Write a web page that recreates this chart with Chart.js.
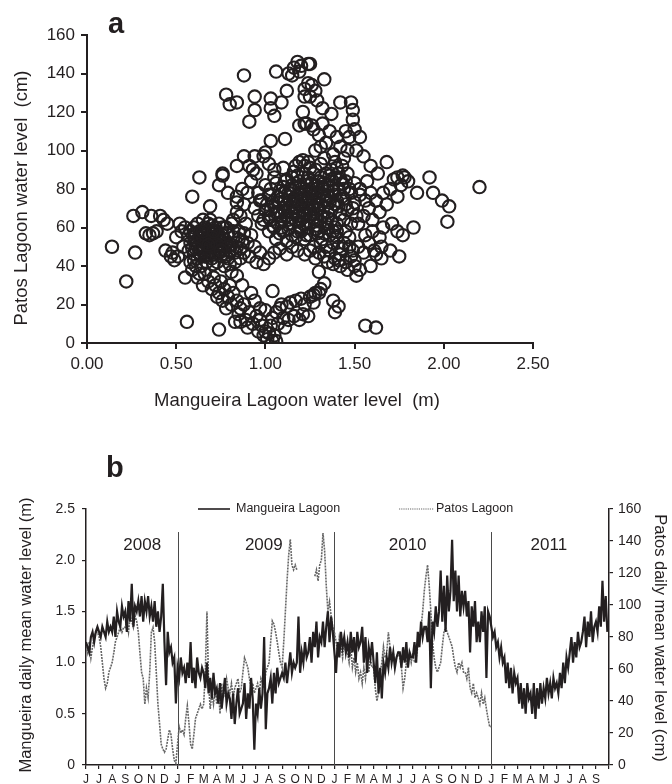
<!DOCTYPE html>
<html lang="en">
<head>
    <meta charset="UTF-8">
    <title>Mangueira and Patos lagoon water levels</title>
    <style>
        body {
            margin: 0;
            background-color: #ffffff;
        }
        .page {
            position: relative;
            width: 672px;
            height: 784px;
        }
        #scatterChart {
            position: absolute;
            left: 0;
            top: 0;
        }
        #seriesChart {
            position: absolute;
            left: 0;
            top: 420px;
        }
    </style>
</head>
<body>
    <div class="page">
        <canvas id="scatterChart" width="672" height="420"></canvas>
        <canvas id="seriesChart" width="672" height="364"></canvas>
    </div>
    <script src="https://cdn.jsdelivr.net/npm/chart.js"></script>
    <script>
        // Panel a: daily pairs (Mangueira level in m, Patos level in cm)
        const scatterPairs = [
            // left arm and outliers
            [0.14, 50], [0.27, 47], [0.22, 32], [0.26, 66], [0.31, 68], [0.36, 66], [0.33, 57], [0.35, 56],
            [0.37, 57], [0.39, 58], [0.41, 66], [0.43, 64], [0.45, 62], [0.44, 48], [0.47, 45], [0.49, 43],
            [0.48, 47], [0.50, 55], [0.51, 45], [0.52, 62], [0.53, 58], [0.55, 60], [0.54, 50], [0.56, 11],
            [0.55, 34], [0.59, 76], [0.63, 86], [0.69, 71], [0.74, 82], [0.76, 87], [0.79, 78], [0.84, 73],
            [0.84, 68], [0.82, 64],
            // blob around 0.7 m / 50 cm
            [0.58, 52], [0.60, 55], [0.62, 50], [0.63, 58], [0.64, 53], [0.65, 48], [0.66, 56], [0.67, 51],
            [0.68, 54], [0.69, 47], [0.70, 58], [0.71, 52], [0.72, 49], [0.73, 55], [0.74, 50], [0.75, 45],
            [0.62, 44], [0.64, 40], [0.60, 46], [0.58, 42], [0.57, 48], [0.66, 60], [0.68, 62], [0.72, 60],
            [0.76, 56], [0.78, 52], [0.80, 48], [0.82, 55], [0.84, 50], [0.79, 44], [0.77, 40], [0.73, 42],
            [0.70, 44], [0.67, 42], [0.63, 36], [0.61, 40], [0.59, 38], [0.69, 64], [0.65, 64], [0.62, 62],
            [0.57, 56], [0.60, 60], [0.74, 62], [0.78, 60], [0.81, 62], [0.85, 58], [0.87, 53], [0.88, 47],
            [0.86, 44], [0.83, 42], [0.90, 52], [0.92, 56], [0.94, 50], [0.91, 45], [0.95, 42], [0.97, 47],
            [0.66, 52], [0.70, 50], [0.64, 57], [0.71, 55], [0.68, 46], [0.75, 53], [0.61, 53], [0.77, 48],
            [0.59, 49], [0.61, 57], [0.63, 47], [0.65, 55], [0.67, 45], [0.69, 53], [0.71, 46], [0.73, 58],
            [0.75, 50], [0.77, 54], [0.79, 57], [0.81, 51], [0.83, 47], [0.85, 54], [0.62, 53], [0.66, 49],
            [0.70, 61], [0.74, 47], [0.78, 45], [0.60, 43], [0.64, 45], [0.68, 58], [0.72, 53], [0.76, 60],
            [0.80, 41], [0.82, 58], [0.58, 58], [0.86, 49], [0.88, 57], [0.71, 41],
            [0.64, 50], [0.67, 54], [0.69, 50], [0.72, 46], [0.74, 56], [0.76, 51], [0.63, 55], [0.70, 55],
            [0.66, 45], [0.73, 51], [0.68, 51], [0.65, 58], [0.71, 58], [0.79, 50], [0.61, 49], [0.75, 48],
            // falling band towards 1.0 m / 0 cm
            [0.62, 34], [0.65, 30], [0.68, 32], [0.70, 28], [0.72, 30], [0.74, 26], [0.66, 36], [0.71, 34],
            [0.75, 32], [0.77, 28], [0.79, 24], [0.76, 22], [0.73, 24], [0.80, 30], [0.82, 26], [0.84, 22],
            [0.81, 20], [0.78, 18], [0.86, 18], [0.88, 20], [0.85, 15], [0.89, 12], [0.83, 11], [0.91, 16],
            [0.93, 10], [0.95, 14], [0.90, 8], [0.96, 6], [0.98, 9], [0.99, 4], [1.00, 6], [1.01, 2],
            [1.02, 5], [1.03, 9], [0.97, 12], [1.04, 1], [1.05, 4], [1.06, 1], [1.04, 13], [1.06, 16],
            [1.08, 18], [1.00, 17], [0.97, 18], [0.94, 22], [0.92, 26], [0.87, 30], [0.84, 35], [0.81, 37],
            [0.74, 7], [0.86, 11], [1.04, 27],
            // low band to the right
            [1.09, 20], [1.12, 19], [1.14, 21], [1.17, 22], [1.20, 23], [1.22, 20], [1.25, 24], [1.28, 26],
            [1.27, 21], [1.31, 28], [1.33, 31], [1.30, 37], [1.38, 22], [1.41, 19], [1.39, 16], [1.10, 13],
            [1.13, 12], [1.16, 14], [1.19, 12], [1.21, 15], [1.24, 14], [1.07, 10], [1.11, 8], [1.56, 9],
            [1.62, 8], [1.30, 26], [1.27, 25],
            // upper arm
            [0.78, 129], [0.80, 124], [0.84, 125], [0.88, 139], [0.94, 128], [0.94, 121], [0.91, 115], [1.03, 127],
            [1.03, 122], [1.05, 118], [1.09, 125], [1.06, 141], [1.13, 140], [1.16, 143], [1.18, 146], [1.20, 144],
            [1.24, 145], [1.25, 145], [1.33, 137], [1.24, 135], [1.12, 131], [1.22, 132], [1.22, 128], [1.25, 128],
            [1.21, 120], [1.19, 113], [1.22, 114], [1.26, 113], [1.11, 106], [1.03, 105], [1.00, 99], [0.99, 97],
            [0.94, 97], [0.88, 97], [0.84, 92], [0.76, 88], [0.93, 90], [1.19, 94], [1.21, 95], [1.24, 94],
            [1.29, 126], [1.32, 122], [1.37, 119], [1.42, 125], [1.48, 125], [1.49, 121], [1.23, 114], [1.27, 111],
            [1.32, 114], [1.49, 116], [1.50, 111], [1.40, 107], [1.47, 107], [1.53, 107], [1.31, 102], [1.38, 98],
            [1.46, 100], [1.28, 131], [1.26, 134], [1.19, 141], [1.15, 139],
            [1.28, 100], [1.34, 104], [1.42, 102], [1.45, 110], [1.36, 110], [1.30, 108], [1.44, 96], [1.51, 100],
            [1.33, 96],
            // main cloud around 1.2 m / 70 cm
            [1.10, 91], [1.16, 89], [1.22, 92], [1.28, 90], [1.34, 88], [1.40, 91],
            [1.05, 86], [1.12, 85], [1.18, 87], [1.24, 86], [1.30, 84], [1.36, 87], [1.42, 85], [1.46, 88],
            [1.00, 82], [1.06, 83], [1.10, 81], [1.15, 82], [1.20, 80], [1.26, 83], [1.32, 81], [1.38, 82],
            [1.44, 80], [1.50, 83],
            [0.96, 78], [1.02, 77], [1.08, 79], [1.13, 78], [1.18, 76], [1.23, 79], [1.28, 78], [1.33, 77],
            [1.38, 79], [1.43, 76], [1.48, 78], [1.53, 77],
            [0.98, 74], [1.04, 73], [1.09, 75], [1.14, 74], [1.19, 72], [1.24, 75], [1.29, 73], [1.34, 74],
            [1.39, 72], [1.44, 75], [1.50, 73],
            [0.94, 70], [1.00, 69], [1.05, 71], [1.10, 70], [1.15, 68], [1.20, 71], [1.25, 69], [1.30, 70],
            [1.35, 68], [1.41, 71], [1.46, 69],
            [0.96, 66], [1.02, 65], [1.07, 67], [1.12, 66], [1.17, 64], [1.22, 67], [1.27, 65], [1.32, 66],
            [1.37, 64], [1.42, 67],
            [0.98, 62], [1.04, 61], [1.09, 63], [1.14, 62], [1.19, 60], [1.24, 63], [1.29, 61], [1.34, 62],
            [1.39, 60],
            [1.02, 58], [1.08, 57], [1.13, 59], [1.18, 58], [1.23, 56], [1.28, 59], [1.33, 57], [1.38, 58],
            [1.06, 54], [1.12, 53], [1.17, 55], [1.22, 54],
            [1.12, 72], [1.16, 75], [1.20, 77], [1.24, 70], [1.18, 66], [1.14, 80], [1.22, 73], [1.26, 76],
            [1.28, 82], [1.30, 75], [1.08, 68], [1.16, 70], [1.21, 69], [1.26, 72], [1.33, 80], [1.36, 73],
            [0.86, 66], [0.88, 72], [0.90, 78], [0.92, 84], [0.87, 80], [0.84, 76], [0.89, 62], [0.95, 88],
            [0.91, 92], [0.97, 74], [0.99, 64], [1.05, 90], [1.02, 93],
            [1.03, 80], [1.07, 76], [1.11, 78], [1.15, 86], [1.19, 84], [1.23, 82], [1.27, 88], [1.31, 86],
            [1.35, 82], [1.39, 86], [1.43, 83], [1.01, 72], [1.06, 68], [1.11, 74], [1.15, 72], [1.19, 78],
            [1.23, 74], [1.27, 70], [1.31, 78], [1.35, 76], [1.40, 74], [1.45, 72], [1.03, 64], [1.07, 62],
            [1.11, 68], [1.15, 65], [1.19, 63], [1.23, 60], [1.27, 67], [1.31, 63], [1.35, 65], [1.40, 62],
            [1.44, 64], [1.05, 60], [1.10, 58], [1.15, 56], [1.20, 58], [1.25, 56], [1.30, 58], [1.35, 60],
            [1.21, 88], [1.17, 92], [1.25, 91], [1.31, 93], [1.37, 90], [1.43, 92], [1.47, 80], [1.49, 70],
            [1.51, 66], [1.48, 62],
            [1.13, 70], [1.17, 73], [1.21, 75], [1.25, 78], [1.29, 80], [1.33, 83], [1.37, 85], [1.41, 88],
            [1.09, 66], [1.13, 64], [1.17, 68], [1.21, 65], [1.25, 67], [1.29, 69], [1.33, 71], [1.37, 69],
            [1.11, 84], [1.15, 79], [1.19, 81], [1.23, 84], [1.27, 80], [1.31, 72], [1.35, 79], [1.39, 77],
            [1.07, 73], [1.03, 69], [1.09, 60], [1.21, 62], [1.29, 64], [1.41, 80], [1.45, 84], [1.39, 94],
            // second cloud around 1.4 m / 48 cm
            [1.27, 50], [1.30, 47], [1.33, 45], [1.36, 48], [1.39, 44], [1.42, 46], [1.45, 42], [1.48, 45],
            [1.50, 43], [1.44, 52], [1.40, 55], [1.36, 56], [1.32, 54], [1.29, 57], [1.47, 55], [1.52, 50],
            [1.55, 47], [1.50, 40], [1.53, 38], [1.46, 38], [1.42, 40], [1.38, 41], [1.25, 48], [1.22, 46],
            [1.18, 48], [1.15, 50], [1.12, 46], [1.08, 49], [1.05, 47], [1.02, 44], [0.99, 41], [1.58, 52],
            [1.61, 48], [1.65, 44], [1.56, 56], [1.60, 58], [1.64, 55], [1.51, 35], [1.31, 52], [1.41, 50],
            [1.28, 44], [1.34, 50], [1.38, 52], [1.43, 49], [1.47, 50], [1.35, 42], [1.41, 43], [1.49, 48],
            [1.45, 58], [1.40, 58],
            // right side
            [1.52, 62], [1.55, 66], [1.58, 70], [1.60, 64], [1.62, 74], [1.64, 68], [1.66, 78], [1.68, 72],
            [1.70, 80], [1.72, 85], [1.74, 76], [1.76, 82], [1.78, 86], [1.80, 84], [1.71, 62], [1.66, 60],
            [1.74, 58], [1.77, 56], [1.83, 60], [1.85, 78], [1.92, 86], [1.94, 78], [1.99, 74], [2.03, 71],
            [2.02, 63], [2.20, 81], [1.55, 97], [1.59, 92], [1.68, 94], [1.74, 86], [1.77, 87], [1.63, 88],
            [1.57, 84], [1.53, 80], [1.56, 74], [1.59, 78], [1.65, 50], [1.70, 48], [1.59, 40], [1.75, 45],
            [1.62, 46]
        ];

        // Panel b: month labels from June 2008 to September 2011
        const monthLabels = [
            'J', 'J', 'A', 'S', 'O', 'N', 'D',
            'J', 'F', 'M', 'A', 'M', 'J', 'J', 'A', 'S', 'O', 'N', 'D',
            'J', 'F', 'M', 'A', 'M', 'J', 'J', 'A', 'S', 'O', 'N', 'D',
            'J', 'F', 'M', 'A', 'M', 'J', 'J', 'A', 'S'
        ];
        const yearLabels = ['2008', '2009', '2010', '2011'];
        const samplesPerMonth = 8;

        // Mangueira Lagoon level (m), 8 readings per month from June 2008
        const mangueiraLevel = [
            1.2, 1.15, 1.1, 1.25, 1.3, 1.2, 1.3, 1.35,      // Jun 08
            1.3, 1.25, 1.35, 1.3, 1.25, 1.4, 1.3, 1.35,
            1.3, 1.45, 1.25, 1.5, 1.4, 1.35, 1.55, 1.45,
            1.5, 1.3, 1.6, 1.4, 1.77, 1.35, 1.55, 1.5,
            1.6, 1.45, 1.65, 1.4, 1.6, 1.5, 1.65, 1.45,
            1.55, 1.4, 1.6, 1.35, 1.5, 1.3, 1.45, 1.77,
            1.2, 0.78, 1.3, 1.1, 1.15, 1.0, 1.05, 0.6,      // Dec 08
            0.95, 0.85, 1.05, 0.9, 0.95, 0.8, 1.0, 0.85,    // Jan 09
            1.2, 0.8, 0.95, 0.75, 1.05, 0.9, 0.85, 0.95,
            0.9, 0.75, 1.0, 0.7, 0.85, 0.65, 0.9, 0.7,
            0.75, 0.6, 0.8, 0.55, 0.7, 0.85, 0.6, 0.7,
            0.65, 0.45, 0.7, 0.4, 0.6, 0.75, 0.5, 0.55,
            0.6, 0.8, 0.45, 0.7, 0.55, 0.85, 0.65, 0.15,
            0.6, 0.5, 0.75, 0.55, 0.7, 1.25, 0.35, 0.7,
            0.75, 0.85, 0.6, 0.9, 0.7, 0.95, 0.8, 0.85,
            0.9, 0.85, 1.0, 0.8, 0.95, 1.1, 0.9, 1.0,
            0.95, 1.0, 1.45, 0.9, 1.1, 1.0, 1.2, 1.05,
            1.1, 1.25, 1.0, 1.3, 1.15, 1.4, 1.05, 1.25,
            1.2, 1.4, 1.15, 1.35, 1.5, 1.2, 1.45, 1.3,      // Dec 09
            1.1, 0.9, 1.2, 1.05, 1.3, 1.15, 1.25, 1.1,      // Jan 10
            1.2, 1.05, 1.3, 1.1, 1.25, 1.0, 1.3, 1.15,
            1.2, 1.35, 1.0, 1.25, 0.9, 1.15, 1.05, 1.2,
            1.0, 0.8, 1.1, 0.7, 0.95, 0.65, 1.0, 0.9,
            1.05, 0.95, 1.15, 1.0, 1.1, 0.95, 1.05, 1.1,
            1.1, 0.95, 1.15, 1.0, 1.2, 0.95, 1.1, 1.05,
            1.05, 1.2, 1.0, 1.3, 1.15, 1.4, 1.25, 1.35,
            1.35, 1.2, 1.5, 0.75, 1.4, 1.3, 1.55, 1.35,
            1.5, 1.9, 1.4, 1.75, 1.3, 1.85, 1.5, 1.7,
            2.2, 1.6, 1.9, 1.5, 1.85, 1.45, 1.7, 1.55,
            1.7, 1.45, 1.6, 1.1, 1.55, 1.35, 1.6, 1.2,
            1.4, 1.2, 1.5, 1.3, 1.55, 0.85, 1.5, 1.45,      // Dec 10
            1.35, 1.25, 1.3, 1.15, 1.2, 1.05, 1.15, 1.0,    // Jan 11
            1.05, 0.8, 1.0, 0.75, 0.95, 0.7, 0.9, 0.8,
            0.85, 0.6, 0.8, 0.55, 0.75, 0.5, 0.8, 0.65,
            0.7, 0.5, 0.8, 0.45, 0.75, 0.55, 0.8, 0.6,
            0.75, 0.65, 0.85, 0.7, 0.8, 0.65, 0.85, 0.75,
            0.8, 0.7, 0.9, 0.75, 1.0, 0.8, 1.05, 0.95,
            1.1, 1.25, 1.0, 1.2, 1.05, 1.3, 1.15, 1.2,
            1.3, 1.45, 1.15, 1.4, 1.25, 1.5, 1.2, 1.35,
            1.4, 1.3, 1.55, 1.35, 1.8, 1.4, 1.65, 1.3       // Sep 11
        ];

        // Patos Lagoon level (cm), same sampling, ends in January 2011
        const patosLevel = [
            74, 70, 77, 67, 74, 80, 83, 83,                 // Jun 08
            80, 74, 64, 54, 48, 51, 58, 61,
            64, 70, 77, 80, 83, 86, 83, 86,
            86, 90, 83, 93, 90, 86, 93, 90,
            83, 70, 58, 54, 38, 48, 42, 58,
            83, 86, 77, 58, 38, 26, 13, 10,
            8, 10, 16, 22, 19, 10, 3, 1,                    // Dec 08
            13, 24, 20, 22, 19, 29, 37, 26,                 // Jan 09
            13, 10, 19, 29, 32, 35, 38, 35,
            38, 58, 96, 51, 35, 45, 38, 48,
            38, 48, 32, 51, 42, 45, 54, 48,
            45, 51, 42, 48, 51, 54, 45, 48,
            58, 67, 64, 61, 54, 48, 51, 45,
            48, 51, 45, 54, 51, 48, 58, 61,
            64, 77, 90, 88, 83, 77, 70, 64,
            61, 77, 96, 115, 131, 141, 125, 122,
            125, 122, null, null, null, null, null, null,
            null, null, null, null, 118, 122, 115, 125,
            128, 145, 134, 112, 96, 102, 93, 86,            // Dec 09
            83, 77, 70, 80, 74, 67, 77, 70,                 // Jan 10
            70, 64, 74, 61, 67, 58, 64, 54,
            58, 51, 61, 54, 64, 58, 67, 61,
            61, 48, 40, 45, 58, 64, 74, 67,
            70, 83, 74, 67, 70, 64, 67, 70,
            67, 61, 48, 54, 64, 67, 70, 64,
            70, 64, 67, 74, 77, 86, 96, 109,
            118, 125, 112, 96, 77, 67, 61, 58,
            61, 64, 74, 83, 86, 83, 80, 77,
            74, 67, 61, 58, 64, 61, 64, 58,
            58, 54, 61, 48, 45, 51, 42, 45,
            42, 38, 45, 38, 42, 35, 29, 24,                 // Dec 10
            24
        ];

        const ink = '#231f20';
        const fontFamily = '"Liberation Sans", Arial, sans-serif';

        // Panel a
        const panelA = {
            id: 'panelA',
            afterDraw(chart) {
                const ctx = chart.ctx;
                ctx.save();
                ctx.fillStyle = ink;
                ctx.font = 'bold 29px ' + fontFamily;
                ctx.textAlign = 'left';
                ctx.textBaseline = 'alphabetic';
                ctx.fillText('a', 108, 33);
                ctx.font = '18.5px ' + fontFamily;
                ctx.textAlign = 'center';
                ctx.textBaseline = 'middle';
                ctx.fillText('Mangueira Lagoon water level  (m)', 297, 401);
                ctx.translate(22, 198);
                ctx.rotate(-Math.PI / 2);
                ctx.fillText('Patos Lagoon water level  (cm)', 0, 0);
                ctx.restore();
            }
        };

        new Chart(document.getElementById('scatterChart'), {
            type: 'scatter',
            data: {
                datasets: [{
                    label: 'Mangueira vs Patos',
                    data: scatterPairs.map(p => ({ x: p[0], y: p[1] })),
                    pointStyle: 'circle',
                    pointRadius: 6.2,
                    pointHoverRadius: 6.2,
                    pointBorderWidth: 2.1,
                    borderColor: ink,
                    backgroundColor: 'rgba(0,0,0,0)'
                }]
            },
            options: {
                responsive: false,
                animation: false,
                devicePixelRatio: 1,
                layout: { padding: { left: 0, right: 139, top: 35, bottom: 0 } },
                plugins: { legend: { display: false }, tooltip: { enabled: false } },
                scales: {
                    x: {
                        type: 'linear',
                        min: 0,
                        max: 2.5,
                        afterFit: s => { s.height = 77; },
                        border: { display: true, color: ink, width: 2 },
                        grid: { display: true, drawOnChartArea: false, drawTicks: true, tickLength: 6, color: ink, lineWidth: 2 },
                        ticks: {
                            stepSize: 0.5,
                            padding: 5,
                            color: ink,
                            font: { family: fontFamily, size: 17 },
                            callback: v => v.toFixed(2)
                        }
                    },
                    y: {
                        min: 0,
                        max: 160,
                        afterFit: s => { s.width = 87; },
                        border: { display: true, color: ink, width: 2 },
                        grid: { display: true, drawOnChartArea: false, drawTicks: true, tickLength: 6, color: ink, lineWidth: 2 },
                        ticks: {
                            stepSize: 20,
                            padding: 6,
                            color: ink,
                            font: { family: fontFamily, size: 17 }
                        }
                    }
                }
            },
            plugins: [panelA]
        });

        // Panel b
        const panelB = {
            id: 'panelB',
            beforeDatasetsDraw(chart) {
                const ctx = chart.ctx;
                const x = chart.scales.x;
                const y = chart.scales.y;
                ctx.save();
                ctx.strokeStyle = '#4a4a4a';
                ctx.lineWidth = 1;
                [7, 19, 31].forEach(m => {
                    const px = Math.round(x.getPixelForValue(m)) + 0.5;
                    ctx.beginPath();
                    ctx.moveTo(px, y.getPixelForValue(2.275));
                    ctx.lineTo(px, y.getPixelForValue(0));
                    ctx.stroke();
                });
                ctx.fillStyle = ink;
                ctx.font = '17px ' + fontFamily;
                ctx.textAlign = 'center';
                ctx.textBaseline = 'middle';
                [4.3, 13.6, 24.6, 35.4].forEach((m, i) => {
                    ctx.fillText(yearLabels[i], x.getPixelForValue(m), y.getPixelForValue(2.15));
                });
                ctx.restore();
            },
            afterDraw(chart) {
                const ctx = chart.ctx;
                const ds = chart.data.datasets;
                ctx.save();
                ctx.fillStyle = ink;
                ctx.font = 'bold 29px ' + fontFamily;
                ctx.textAlign = 'left';
                ctx.textBaseline = 'alphabetic';
                ctx.fillText('b', 106, 57);

                // legend
                ctx.font = '12.5px ' + fontFamily;
                ctx.textBaseline = 'middle';
                ctx.strokeStyle = ds[0].borderColor;
                ctx.lineWidth = 1.6;
                ctx.beginPath();
                ctx.moveTo(198, 89);
                ctx.lineTo(230, 89);
                ctx.stroke();
                ctx.fillText(ds[0].label, 236, 89);
                ctx.strokeStyle = ds[1].borderColor;
                ctx.lineWidth = 1.2;
                ctx.setLineDash([1.2, 1]);
                ctx.beginPath();
                ctx.moveTo(399, 89);
                ctx.lineTo(434, 89);
                ctx.stroke();
                ctx.setLineDash([]);
                ctx.fillText(ds[1].label, 436, 89);

                // axis titles
                ctx.font = '16.5px ' + fontFamily;
                ctx.textAlign = 'center';
                ctx.save();
                ctx.translate(26, 215);
                ctx.rotate(-Math.PI / 2);
                ctx.fillText('Mangueira daily mean water level (m)', 0, 0);
                ctx.restore();
                ctx.translate(660, 218);
                ctx.rotate(Math.PI / 2);
                ctx.fillText('Patos daily mean water level (cm)', 0, 0);
                ctx.restore();
            }
        };

        new Chart(document.getElementById('seriesChart'), {
            type: 'line',
            data: {
                datasets: [{
                    label: 'Mangueira Lagoon',
                    data: mangueiraLevel.map((v, i) => ({ x: i / samplesPerMonth, y: v })),
                    yAxisID: 'y',
                    borderColor: ink,
                    borderWidth: 2.2,
                    pointRadius: 0,
                    tension: 0
                }, {
                    label: 'Patos Lagoon',
                    data: patosLevel.map((v, i) => ({ x: i / samplesPerMonth, y: v })),
                    yAxisID: 'y2',
                    borderColor: '#666666',
                    borderWidth: 1.6,
                    borderDash: [2, 1],
                    pointRadius: 0,
                    spanGaps: false,
                    tension: 0
                }]
            },
            options: {
                responsive: false,
                animation: false,
                devicePixelRatio: 1,
                layout: { padding: { left: 0, right: 0, top: 89, bottom: 0 } },
                plugins: { legend: { display: false }, tooltip: { enabled: false } },
                scales: {
                    x: {
                        type: 'linear',
                        min: 0,
                        max: 40,
                        afterFit: s => { s.height = 19; },
                        border: { display: true, color: ink, width: 1.5 },
                        grid: { display: true, drawOnChartArea: false, drawTicks: true, tickLength: 4, color: ink, lineWidth: 1.2 },
                        ticks: {
                            stepSize: 1,
                            autoSkip: false,
                            maxRotation: 0,
                            padding: 3,
                            color: ink,
                            font: { family: fontFamily, size: 12 },
                            callback: v => monthLabels[v] || ''
                        }
                    },
                    y: {
                        position: 'left',
                        min: 0,
                        max: 2.5,
                        afterFit: s => { s.width = 86; },
                        border: { display: true, color: ink, width: 1.5 },
                        grid: { display: true, drawOnChartArea: false, drawTicks: true, tickLength: 4, color: ink, lineWidth: 1.2 },
                        ticks: {
                            stepSize: 0.5,
                            padding: 7,
                            color: ink,
                            font: { family: fontFamily, size: 14 },
                            callback: v => v === 0 ? '0' : v.toFixed(1)
                        }
                    },
                    y2: {
                        position: 'right',
                        min: 0,
                        max: 160,
                        afterFit: s => { s.width = 63; },
                        border: { display: true, color: ink, width: 1.5 },
                        grid: { display: true, drawOnChartArea: false, drawTicks: true, tickLength: 4, color: ink, lineWidth: 1.2 },
                        ticks: {
                            stepSize: 20,
                            padding: 5,
                            color: ink,
                            font: { family: fontFamily, size: 14 }
                        }
                    }
                }
            },
            plugins: [panelB]
        });
    </script>
</body>
</html>
